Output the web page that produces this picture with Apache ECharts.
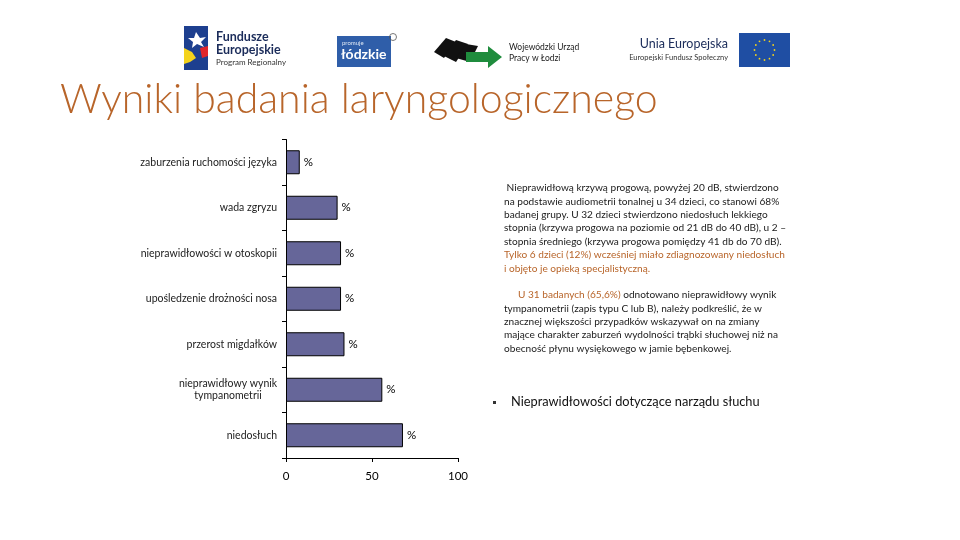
<!DOCTYPE html>
<html>
<head>
<meta charset="utf-8">
<script src="https://cdn.jsdelivr.net/npm/echarts@6/dist/echarts.min.js"></script>
<style>
html,body{margin:0;padding:0;background:#fff;}
#main{width:960px;height:540px;}
</style>
</head>
<body>
<div id="main"></div>
<script>
// Data
var categories = [
  'zaburzenia ruchomości języka',
  'wada zgryzu',
  'nieprawidłowości w otoskopii',
  'upośledzenie drożności nosa',
  'przerost migdałków',
  'nieprawidłowy wynik\ntympanometrii',
  'niedosłuch'
];
var values = [8, 30, 32, 32, 34, 56, 68];
var xTicks = [0, 50, 100];

var titleText = 'Wyniki badania laryngologicznego';
var para1 = [
  ' Nieprawidłową krzywą progową, powyżej 20 dB, stwierdzono',
  'na podstawie audiometrii tonalnej u 34 dzieci, co stanowi 68%',
  'badanej grupy. U 32 dzieci stwierdzono niedosłuch lekkiego',
  'stopnia (krzywa progowa na poziomie od 21 dB do 40 dB), u 2 –',
  'stopnia średniego (krzywa progowa pomiędzy 41 db do 70 dB).'
];
var para1Orange = [
  'Tylko 6 dzieci (12%) wcześniej miało zdiagnozowany niedosłuch',
  'i objęto je opieką specjalistyczną.'
];
var para2Orange = 'U 31 badanych (65,6%)';
var para2 = [
  ' odnotowano nieprawidłowy wynik',
  'tympanometrii (zapis typu C lub B), należy podkreślić, że w',
  'znacznej większości przypadków wskazywał on na zmiany',
  'mające charakter zaburzeń wydolności trąbki słuchowej niż na',
  'obecność płynu wysiękowego w jamie bębenkowej.'
];
var bulletText = 'Nieprawidłowości dotyczące narządu słuchu';

var FONT = 'Lato, "Open Sans", sans-serif';
var ORANGE = '#b8652a';

var chart = echarts.init(document.getElementById('main'));

var graphics = [];
// Title
graphics.push({type:'text', left:60, top:79, style:{text:titleText, font:'300 41px ' + FONT, fill:ORANGE}});

// Paragraph 1
var lh = 13.4;
var PF = '10.1px ' + FONT;
para1.forEach(function(t,i){
  graphics.push({type:'text', left:504, top:183 + i*lh, style:{text:t, font:PF, fill:'#1a1a1a'}});
});
para1Orange.forEach(function(t,i){
  graphics.push({type:'text', left:504, top:183 + (para1.length+i)*lh, style:{text:t, font:PF, fill:ORANGE}});
});
// Paragraph 2
graphics.push({type:'text', left:518, top:290, style:{
  rich:{o:{fill:ORANGE, font:PF}, b:{fill:'#1a1a1a', font:PF}},
  text:'{o|' + para2Orange + '}{b|' + para2[0] + '}'
}});
for (var i=1;i<para2.length;i++){
  graphics.push({type:'text', left:504, top:290 + i*lh, style:{text:para2[i], font:PF, fill:'#1a1a1a'}});
}
// Bullet
graphics.push({type:'rect', shape:{x:493, y:401, width:3, height:3}, style:{fill:'#333'}});
graphics.push({type:'text', left:511, top:395, style:{text:bulletText, font:'12.8px ' + FONT, fill:'#111'}});

// Logos (approximate)
// Fundusze Europejskie
graphics.push({type:'rect', shape:{x:184, y:26, width:24, height:44}, style:{fill:'#1d3f8f'}});
graphics.push({type:'polygon', shape:{points:[[196,32],[200,38],[206,37],[201,42],[204,47],[197,44],[192,48],[193,42],[188,38],[194,38]]}, style:{fill:'#fff'}});
graphics.push({type:'polygon', shape:{points:[[184,48],[192,52],[196,58],[190,62],[184,64]]}, style:{fill:'#f4d31c'}});
graphics.push({type:'polygon', shape:{points:[[200,48],[208,46],[208,56],[202,58]]}, style:{fill:'#e0262b'}});
graphics.push({type:'text', left:216, top:30, style:{text:'Fundusze', font:'bold 12.5px ' + FONT, fill:'#1b2c5a'}});
graphics.push({type:'text', left:216, top:43, style:{text:'Europejskie', font:'bold 12.5px ' + FONT, fill:'#1b2c5a'}});
graphics.push({type:'text', left:216, top:58, style:{text:'Program Regionalny', font:'8px ' + FONT, fill:'#333'}});
// łódzkie
graphics.push({type:'rect', shape:{x:337, y:36, width:54, height:31}, style:{fill:'#2f5ea9'}});
graphics.push({type:'text', left:342, top:40, style:{text:'promuje', font:'6px ' + FONT, fill:'#dfe8f5'}});
graphics.push({type:'text', left:341, top:47, style:{text:'łódzkie', font:'bold 14px ' + FONT, fill:'#ffffff'}});
graphics.push({type:'circle', shape:{cx:393, cy:37, r:3.5}, style:{fill:'none', stroke:'#555', lineWidth:0.8}});
// WUP
graphics.push({type:'polygon', shape:{points:[[434,52],[446,38],[456,42],[444,58]]}, style:{fill:'#111'}});
graphics.push({type:'polygon', shape:{points:[[444,56],[456,40],[468,44],[456,62]]}, style:{fill:'#111'}});
graphics.push({type:'polygon', shape:{points:[[456,58],[466,44],[478,46],[470,62]]}, style:{fill:'#111'}});
graphics.push({type:'polygon', shape:{points:[[466,52],[488,52],[488,46],[502,57],[488,68],[488,62],[466,62]]}, style:{fill:'#1f8c3d'}});
graphics.push({type:'text', left:509, top:43, style:{text:'Wojewódzki Urząd', font:'8.5px ' + FONT, fill:'#222'}});
graphics.push({type:'text', left:509, top:54, style:{text:'Pracy w Łodzi', font:'8.5px ' + FONT, fill:'#222'}});
// Unia Europejska
graphics.push({type:'text', right:232, top:37, style:{text:'Unia Europejska', font:'12.5px ' + FONT, fill:'#1b2c5a', align:'right'}});
graphics.push({type:'text', right:232, top:54, style:{text:'Europejski Fundusz Społeczny', font:'7.5px ' + FONT, fill:'#333', align:'right'}});
graphics.push({type:'rect', shape:{x:739, y:33, width:51, height:34}, style:{fill:'#1f4ea3'}});
for (var s=0;s<12;s++){
  var a = s/12*Math.PI*2;
  graphics.push({type:'circle', shape:{cx:764.5+Math.cos(a)*10, cy:50+Math.sin(a)*10, r:0.9}, style:{fill:'#f3d21a'}});
}

chart.setOption({
  animation:false,
  backgroundColor:'#fff',
  grid:{left:286, top:139.5, right:502, bottom:82, containLabel:false},
  xAxis:{
    type:'value', min:0, max:100, interval:50,
    splitLine:{show:false},
    axisLine:{show:true, lineStyle:{color:'#000', width:1}},
    axisTick:{show:true, length:4, lineStyle:{color:'#000'}},
    axisLabel:{color:'#000', fontSize:11.5, fontFamily:FONT, margin:12,
      formatter:function(v){ return xTicks.indexOf(v) >= 0 ? String(v) : ''; }}
  },
  yAxis:{
    type:'category', data:categories, inverse:true,
    axisLine:{show:true, lineStyle:{color:'#000', width:1}},
    axisTick:{show:true, length:4, lineStyle:{color:'#000'}},
    axisLabel:{color:'#222', fontSize:10.5, fontFamily:FONT, margin:9, lineHeight:12.5, align:'right',
      formatter:function(v){
        if (v.indexOf('\n') < 0) return v;
        return v.split('\n').map(function(l){ return '{c|' + l + '}'; }).join('\n');
      },
      rich:{c:{width:98, align:'center', fontSize:10.5, fontFamily:FONT, color:'#222', lineHeight:12.5}}
    }
  },
  series:[{
    type:'bar', data:values, barWidth:24,
    itemStyle:{color:'#666699', borderColor:'#000', borderWidth:1},
    label:{show:true, position:'right', distance:4, formatter:'%', color:'#000', fontSize:11.5, fontFamily:FONT}
  }],
  graphic:graphics
});
</script>
</body>
</html>
